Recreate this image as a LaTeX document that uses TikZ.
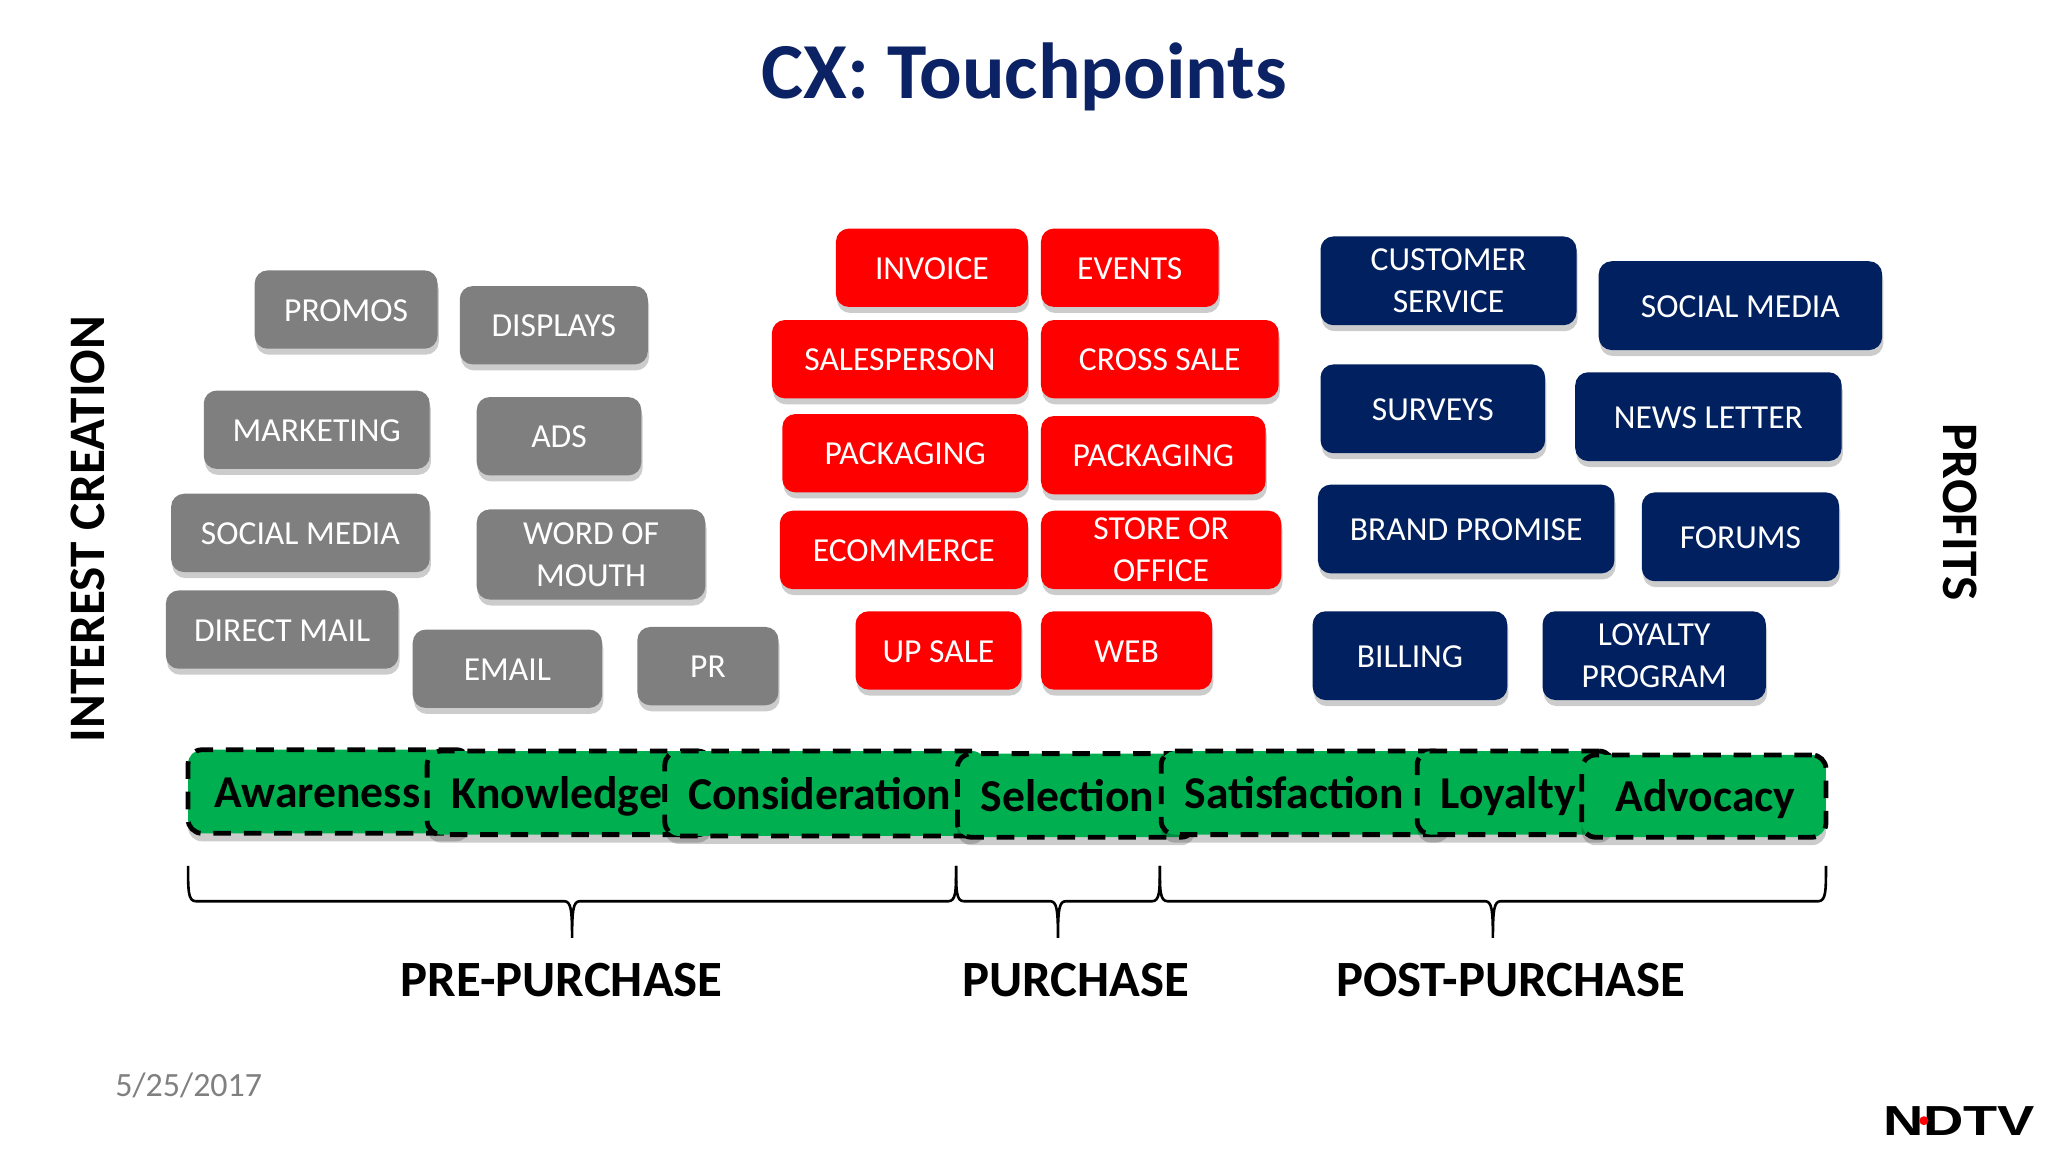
\documentclass[tikz,border=0pt]{standalone}
\usepackage{fontspec}
\setmainfont{Carlito}
\newfontfamily\logofont{Liberation Sans}
\usetikzlibrary{shapes,positioning,shadows}
\definecolor{boxgrey}{HTML}{7F7F7F}
\definecolor{boxred}{HTML}{FF0000}
\definecolor{boxnavy}{HTML}{002060}
\definecolor{boxgreen}{HTML}{00B050}
\definecolor{titlenavy}{HTML}{0B2265}
\def\unitpx{0.65306pt}

\begin{document}
\begin{tikzpicture}[x=\unitpx, y=-\unitpx]
% STYLES
\tikzset{
    sz/.style 2 args={minimum width=#1*\unitpx, minimum height=#2*\unitpx},
    tilebox/.style={rectangle, rounded corners=6.5pt, align=center, inner sep=0pt,
    text=white, font=\fontsize{16.8}{20.9}\selectfont,
    execute at begin node={\rule{0pt}{11.8pt}},
    drop shadow={shadow xshift=0.6pt, shadow yshift=-3pt, fill=black, opacity=0.2}},
    greybox/.style={tilebox, fill=boxgrey},
    redbox/.style={tilebox, fill=boxred},
    navybox/.style={tilebox, fill=boxnavy},
    stagebox/.style={rectangle, rounded corners=7pt, draw=black, fill=boxgreen,
    line width=2.4pt, dash pattern=on 8.8pt off 6.4pt, align=left, inner ysep=0pt, inner xsep=#1*\unitpx,
    font=\fontsize{22.8}{26}\selectfont\bfseries, text height=18pt, text depth=2.3pt,
    drop shadow={shadow xshift=0pt, shadow yshift=-4pt, fill=black, opacity=0.2, draw=none}},
    phase/.style={font=\fontsize{25.4}{28}\selectfont\bfseries, inner sep=0pt},
    sidelabel/.style={font=\fontsize{25.6}{28}\selectfont\bfseries, inner sep=0pt}
}
\useasboundingbox (0,0) rectangle (1568,882);

\node [font=\fontsize{39.7}{44}\selectfont\bfseries, text=titlenavy, inner sep=0pt] (title) at (784,59) {CX: Touchpoints};

% interest creation
\node [greybox, sz={140}{60}] (promos) at (265,237) {PROMOS};
\node [greybox, sz={144}{60}] (displays) at (424,249) {DISPLAYS};
\node [greybox, sz={173}{60}] (marketing) at (242.5,329) {MARKETING};
\node [greybox, sz={126}{60}] (ads) at (428,334) {ADS};
\node [greybox, sz={198}{60}] (socialgrey) at (230,408) {SOCIAL MEDIA};
\node [greybox, sz={175}{69}] (word) at (452.5,424.5) {WORD OF\\MOUTH};
\node [greybox, sz={178}{60}] (directmail) at (216,482) {DIRECT MAIL};
\node [greybox, sz={145}{60}] (email) at (388.5,512) {EMAIL};
\node [greybox, sz={108}{60}] (pr) at (542,510) {PR};

% purchase
\node [redbox, sz={147}{60}] (invoice) at (713.5,205) {INVOICE};
\node [redbox, sz={136}{60}] (events) at (865,205) {EVENTS};
\node [redbox, sz={196}{60}] (salesperson) at (689,275) {SALESPERSON};
\node [redbox, sz={182}{60}] (crosssale) at (888,275) {CROSS SALE};
\node [redbox, sz={188}{60}] (packagingl) at (693,347) {PACKAGING};
\node [redbox, sz={172}{60}] (packagingr) at (883,348.5) {PACKAGING};
\node [redbox, sz={190}{60}] (ecommerce) at (692,421) {ECOMMERCE};
\node [redbox, sz={184}{60}] (store) at (889,421) {STORE OR\\OFFICE};
\node [redbox, sz={127}{60}] (upsale) at (718.5,498) {UP SALE};
\node [redbox, sz={131}{60}] (web) at (862.5,498) {WEB};

% profits
\node [navybox, sz={196}{68}] (customer) at (1109,215) {CUSTOMER\\SERVICE};
\node [navybox, sz={217}{68}] (socialnavy) at (1332.5,234) {SOCIAL MEDIA};
\node [navybox, sz={172}{68}] (surveys) at (1097,313) {SURVEYS};
\node [navybox, sz={204}{68}] (newsletter) at (1308,319) {NEWS LETTER};
\node [navybox, sz={227}{68}] (brand) at (1122.5,405) {BRAND PROMISE};
\node [navybox, sz={151}{68}] (forums) at (1332.5,411) {FORUMS};
\node [navybox, sz={149}{68}] (billing) at (1079.5,502) {BILLING};
\node [navybox, sz={171}{68}] (loyaltyprog) at (1266.5,502) {LOYALTY\\PROGRAM};

% stages, each one overlaps the one before
\node [stagebox=20, sz={216}{64}, text width=176*\unitpx] (awareness) at (252,606) {Awareness};
\node [stagebox=19, sz={218}{64}, text width=180*\unitpx] (knowledge) at (436,607) {Knowledge};
\node [stagebox=18, sz={246}{65}, text width=210*\unitpx] (consideration) at (632,607.5) {Consideration};
\node [stagebox=18, sz={182}{64}, text width=146*\unitpx] (selection) at (824,609) {Selection};
\node [stagebox=18, sz={221}{64}, text width=185*\unitpx] (satisfaction) at (999.5,607) {Satisfaction};
\node [stagebox=18, sz={150}{64}, text width=114*\unitpx] (loyalty) at (1160,607) {Loyalty};
\node [stagebox=26, sz={187}{63}, text width=135*\unitpx] (advocacy) at (1304.5,609.5) {Advocacy};

% braces
\foreach \l/\m/\r in {144/438/732, 732/810/888, 888/1143/1398}
  \draw[line width=1.3pt] (\l,663) .. controls (\l,682) and (\l,690) .. (\l+6,690)
    -- (\m-6,690) .. controls (\m-1,690) and (\m,696) .. (\m,718)
    .. controls (\m,696) and (\m+1,690) .. (\m+6,690)
    -- (\r-6,690) .. controls (\r,690) and (\r,682) .. (\r,663);

\node [phase] (pre) at (430,750) {PRE-PURCHASE};
\node [phase] (purchase) at (823.5,750) {PURCHASE};
\node [phase] (post) at (1156.5,750) {POST-PURCHASE};

\node [sidelabel, rotate=90] (interest) at (67,405) {INTEREST CREATION};
\node [sidelabel, rotate=-90] (profitslabel) at (1501,392) {PROFITS};

\node [font=\fontsize{17}{20}\selectfont, text=black!50, inner sep=0pt] (date) at (144.5,831) {5/25/2017};
\node [font=\fontsize{21}{24}\selectfont\logofont\bfseries, inner sep=0pt, xscale=1.33] (logo) at (1500,858) {NDTV};
\node [circle, fill=red, inner sep=0pt, minimum size=4.5pt] (logodot) at (1473,858) {};
\end{tikzpicture}
\end{document}
